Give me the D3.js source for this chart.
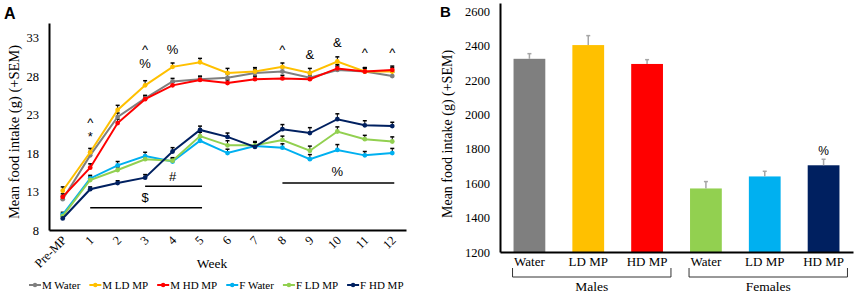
<!DOCTYPE html>
<html>
<head>
<meta charset="utf-8">
<script src="https://cdn.jsdelivr.net/npm/d3@7"></script>
<style>
  body { margin: 0; background: #fff; }
</style>
</head>
<body>
<div class="container"></div>
<script>
// ---- panel A data: weekly food intake ----
var weeks = ['Pre-MP', '1', '2', '3', '4', '5', '6', '7', '8', '9', '10', '11', '12'];
var seriesNames = ['M Water', 'M LD MP', 'M HD MP', 'F Water', 'F LD MP', 'F HD MP'];
var seriesColors = ['#7f7f7f', '#ffc000', '#ff0000', '#00b0f0', '#92d050', '#002060'];
var mWater = [12.0, 17.7, 22.7, 25.1, 27.3, 27.6, 27.8, 28.4, 28.6, 27.8, 28.8, 28.6, 28.0];
var mLD    = [13.1, 18.1, 23.6, 26.8, 29.2, 29.8, 28.4, 28.6, 29.2, 28.4, 29.9, 28.6, 28.6];
var mHD    = [12.3, 16.1, 21.9, 25.0, 26.8, 27.5, 27.1, 27.6, 27.7, 27.6, 29.0, 28.6, 28.8];
var fWater = [10.0, 14.7, 16.4, 17.6, 16.9, 19.6, 18.0, 18.9, 18.7, 17.2, 18.4, 17.7, 18.0];
var fLD    = [9.8, 14.5, 15.8, 17.2, 17.0, 20.2, 19.0, 19.0, 19.7, 18.3, 20.8, 19.8, 19.5];
var fHD    = [9.5, 13.3, 14.1, 14.8, 18.2, 21.0, 20.1, 18.8, 21.1, 20.6, 22.4, 21.6, 21.5];
var semMWater = [0.4, 0.5, 0.5, 0.4, 0.4, 0.4, 0.5, 0.5, 0.5, 0.5, 0.5, 0.5, 0.5];
var semMLD    = [0.5, 0.5, 0.6, 0.6, 0.5, 0.5, 0.6, 0.5, 0.5, 0.6, 0.6, 0.5, 0.5];
var semMHD    = [0.4, 0.5, 0.5, 0.4, 0.4, 0.4, 0.4, 0.4, 0.4, 0.4, 0.5, 0.4, 0.5];
var semFWater = [0.3, 0.4, 0.5, 0.5, 0.4, 0.5, 0.5, 0.5, 0.5, 0.6, 0.7, 0.5, 0.6];
var semFLD    = [0.3, 0.4, 0.4, 0.4, 0.4, 0.5, 0.6, 0.5, 0.5, 0.6, 0.6, 0.5, 0.6];
var semFHD    = [0.3, 0.3, 0.3, 0.4, 0.5, 0.5, 0.5, 0.6, 0.6, 0.7, 0.7, 0.6, 0.5];
var yTicksA = [8, 13, 18, 23, 28, 33];

// significance marks above points: [symbol, week, value]
var marksA = [['^', '1', 21.4], ['*', '1', 19.6], ['^', '3', 30.9], ['%', '3', 29.0], ['%', '4', 30.9],
  ['^', '8', 30.9], ['&', '9', 30.2], ['&', '10', 31.8], ['^', '11', 30.5], ['^', '12', 30.5]];
// significance bars: [symbol, from week, to week, line value, label value]
var barsA = [['$', '1', '5', 10.9, 11.6], ['#', '3', '5', 13.7, 14.4], ['%', '8', '12', 14.1, 15.0]];

// ---- panel B data: mean total intake ----
var groupKeys = ['M Water', 'M LD MP', 'M HD MP', 'F Water', 'F LD MP', 'F HD MP'];
var groupLabels = ['Water', 'LD MP', 'HD MP', 'Water', 'LD MP', 'HD MP'];
var barColors = ['#7f7f7f', '#ffc000', '#ff0000', '#92d050', '#00b0f0', '#002060'];
var totals = [2325, 2405, 2295, 1570, 1640, 1705];
var totalSem = [30, 55, 25, 40, 30, 35];
var yTicksB = [1200, 1400, 1600, 1800, 2000, 2200, 2400, 2600];
var sexes = ['Males', 'Females'];

var WIDTH = 856, HEIGHT = 294;
var SERIF = '"Liberation Serif", "Times New Roman", Times, serif';
var SANS = '"Liberation Sans", Arial, sans-serif';

var svg = d3.select('.container').append('svg')
  .attr('width', WIDTH)
  .attr('height', HEIGHT);

var serifText = function(sel, size){
  return sel.style('font-family', SERIF).style('font-size', size + 'px').attr('fill', '#000');
};
var sansText = function(sel, size){
  return sel.style('font-family', SANS).style('font-size', size + 'px').attr('fill', '#000');
};

// ================= panel A =================
var xA = d3.scalePoint().domain(weeks).range([49, 406]).padding(0.5);
var yA = d3.scaleLinear().domain([8, 34.9]).range([230, 23]);

svg.append('g')
  .attr('transform', 'translate(49,0)')
  .call(d3.axisLeft(yA).tickValues(yTicksA).tickSize(0).tickPadding(10).tickFormat(d3.format('d')))
  .call(function(g){
    g.select('.domain').attr('stroke', '#000').attr('stroke-width', 2);
    serifText(g.selectAll('text'), 12.5);
  });

svg.append('g')
  .attr('transform', 'translate(0,230)')
  .call(d3.axisBottom(xA).tickSize(0).tickPadding(0))
  .call(function(g){
    g.select('.domain').attr('stroke', '#000').attr('stroke-width', 2);
    serifText(g.selectAll('text'), 12.5)
      .attr('text-anchor', 'end')
      .attr('dy', null)
      .attr('y', 0)
      .attr('transform', 'translate(4,11) rotate(-45)');
  });

serifText(svg.append('text'), 13.5).attr('x', 212).attr('y', 268).attr('text-anchor', 'middle').text('Week');

serifText(svg.append('text'), 14.5).attr('transform', 'translate(19,132) rotate(-90)').attr('text-anchor', 'middle')
  .text('Mean food intake (g) (+SEM)');

sansText(svg.append('text'), 16).attr('x', 4).attr('y', 19).attr('font-weight', 'bold').text('A');

var allSeries = [mWater, mLD, mHD, fWater, fLD, fHD];
var allSem = [semMWater, semMLD, semMHD, semFWater, semFLD, semFHD];

var line = d3.line()
  .x(function(d, i){ return xA(weeks[i]); })
  .y(function(d){ return yA(d); });

// error bars first, lines drawn over them
allSeries.forEach(function(vals, s){
  var eg = svg.append('g').attr('stroke', '#000').attr('stroke-width', 1);
  vals.forEach(function(v, i){
    var x = xA(weeks[i]), top = yA(v + allSem[s][i]);
    eg.append('line').attr('x1', x).attr('x2', x).attr('y1', yA(v)).attr('y2', top);
    eg.append('line').attr('x1', x - 2).attr('x2', x + 2).attr('y1', top).attr('y2', top).attr('stroke-width', 1.5);
  });
});

allSeries.forEach(function(vals, s){
  svg.append('path')
    .attr('d', line(vals))
    .attr('fill', 'none')
    .attr('stroke', seriesColors[s])
    .attr('stroke-width', 2);
  svg.append('g').selectAll('circle').data(vals)
    .enter().append('circle')
    .attr('cx', function(d, i){ return xA(weeks[i]); })
    .attr('cy', function(d){ return yA(d); })
    .attr('r', 2.4)
    .attr('fill', seriesColors[s]);
});

sansText(svg.append('g').selectAll('text').data(marksA)
  .enter().append('text'), 13)
  .attr('x', function(d){ return xA(d[1]); })
  .attr('y', function(d){ return yA(d[2]); })
  .attr('text-anchor', 'middle')
  .text(function(d){ return d[0]; });

barsA.forEach(function(b){
  svg.append('line')
    .attr('x1', xA(b[1])).attr('x2', xA(b[2]) + 2)
    .attr('y1', yA(b[3])).attr('y2', yA(b[3]))
    .attr('stroke', '#000').attr('stroke-width', 1.5);
  sansText(svg.append('text'), 13)
    .attr('x', (xA(b[1]) + xA(b[2])) / 2)
    .attr('y', yA(b[4]))
    .attr('text-anchor', 'middle')
    .text(b[0]);
});

// legend
var lx = 29;
seriesNames.forEach(function(name, s){
  var lg = svg.append('g');
  lg.append('line').attr('x1', lx).attr('x2', lx + 12).attr('y1', 285).attr('y2', 285)
    .attr('stroke', seriesColors[s]).attr('stroke-width', 2);
  lg.append('circle').attr('cx', lx + 6).attr('cy', 285).attr('r', 2.2).attr('fill', seriesColors[s]);
  var t = serifText(lg.append('text'), 11).attr('x', lx + 13).attr('y', 289).text(name);
  lx += 13 + t.node().getComputedTextLength() + 9;
});

// ================= panel B =================
var xB = d3.scaleBand().domain(groupKeys).range([500, 853]).paddingInner(0.46).paddingOuter(0.23);
var yB = d3.scaleLinear().domain([1200, 2650]).range([252, 3]);

svg.append('g').selectAll('rect').data(totals)
  .enter().append('rect')
  .attr('x', function(d, i){ return xB(groupKeys[i]); })
  .attr('y', function(d){ return yB(d); })
  .attr('width', xB.bandwidth())
  .attr('height', function(d){ return yB(1200) - yB(d); })
  .attr('fill', function(d, i){ return barColors[i]; });

totals.forEach(function(v, i){
  var x = xB(groupKeys[i]) + xB.bandwidth() / 2, top = yB(v + totalSem[i]);
  svg.append('line').attr('x1', x).attr('x2', x).attr('y1', yB(v)).attr('y2', top)
    .attr('stroke', '#a6a6a6').attr('stroke-width', 1.5);
  svg.append('line').attr('x1', x - 2).attr('x2', x + 2).attr('y1', top).attr('y2', top)
    .attr('stroke', '#a6a6a6').attr('stroke-width', 1.5);
});

svg.append('g')
  .attr('transform', 'translate(500,0)')
  .call(d3.axisLeft(yB).tickValues(yTicksB).tickSize(0).tickPadding(10).tickFormat(d3.format('d')))
  .call(function(g){
    g.select('.domain').attr('stroke', '#000').attr('stroke-width', 2);
    serifText(g.selectAll('text'), 12.5);
  });

svg.append('g')
  .attr('transform', 'translate(0,252)')
  .call(d3.axisBottom(xB).tickSize(0).tickPadding(5).tickFormat(function(d, i){ return groupLabels[i]; }))
  .call(function(g){
    g.select('.domain').attr('stroke', '#000').attr('stroke-width', 2);
    serifText(g.selectAll('text'), 13);
  });

sansText(svg.append('text'), 12)
  .attr('x', xB(groupKeys[5]) + xB.bandwidth() / 2)
  .attr('y', yB(1765))
  .attr('text-anchor', 'middle').text('%');

sexes.forEach(function(sex, k){
  var x0 = xB(groupKeys[k * 3]) - 1;
  var x1 = xB(groupKeys[k * 3 + 2]) + xB.bandwidth() + 8;
  svg.append('path')
    .attr('d', 'M' + x0 + ',268V277H' + x1 + 'V268')
    .attr('fill', 'none').attr('stroke', '#333').attr('stroke-width', 1);
  serifText(svg.append('text'), 13.5).attr('x', (x0 + x1) / 2).attr('y', 291)
    .attr('text-anchor', 'middle').text(sex);
});

serifText(svg.append('text'), 14).attr('transform', 'translate(452,134) rotate(-90)').attr('text-anchor', 'middle')
  .text('Mean food intake (g) (+SEM)');

sansText(svg.append('text'), 15).attr('x', 440).attr('y', 17).attr('font-weight', 'bold').text('B');
</script>
</body>
</html>
